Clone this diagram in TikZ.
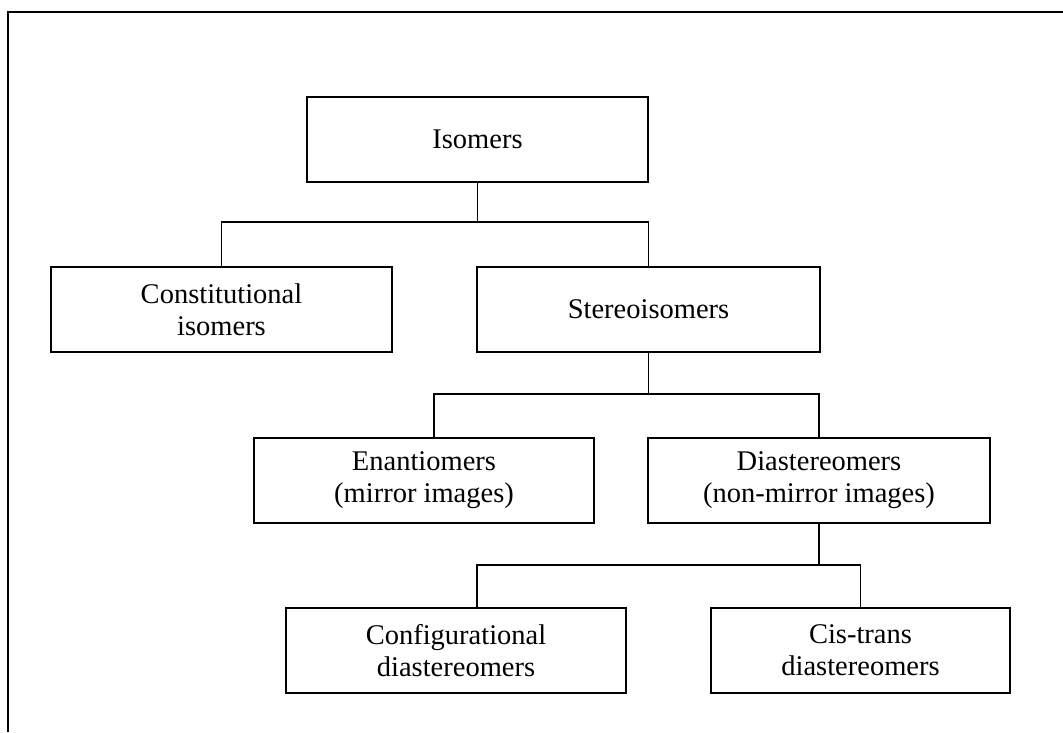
\documentclass[tikz,border=0pt]{standalone}
\usepackage{fontspec}
\setmainfont{Liberation Serif}
\begin{document}
\begin{tikzpicture}[x=1pt,y=-1pt,
  box/.style={draw,line width=1.5pt,rectangle,minimum height=85pt,inner sep=0pt,align=center,
    font=\fontsize{28.5}{32}\selectfont},
  conn/.style={line width=1.4pt}]
\useasboundingbox (0,0) rectangle (1063,732);
\draw[line width=2.6pt] (8,732) -- (8,12) -- (1063,12);
\node[box,minimum width=341pt] (iso) at (477.5,139.5) {Isomers};
\node[box,minimum width=341pt] (con) at (221.5,309.5) {Constitutional\\isomers};
\node[box,minimum width=343pt] (ste) at (648.5,309.5) {Stereoisomers};
\node[box,minimum width=340pt] (ena) at (424,480.5) {Enantiomers\\(mirror images)};
\node[box,minimum width=342pt] (dia) at (819,480.5) {Diastereomers\\(non-mirror images)};
\node[box,minimum width=340pt] (cfg) at (456,650.5) {Configurational\\diastereomers};
\node[box,minimum width=299pt] (cis) at (860.5,650.5) {Cis-trans\\diastereomers};
\coordinate (j1) at (477.5,222);
\coordinate (j2) at (648.5,394);
\coordinate (j3) at (819,565);
\draw[conn] (iso.south) -- (j1);
\draw[conn] (con.north) |- (j1) -| (ste.north);
\draw[conn] (ste.south) -- (j2);
\draw[conn] ([xshift=10pt]ena.north) |- (j2) -| (dia.north);
\draw[conn] (dia.south) -- (j3);
\draw[conn] ([xshift=21pt]cfg.north) |- (j3) -| (cis.north);
\end{tikzpicture}
\end{document}
